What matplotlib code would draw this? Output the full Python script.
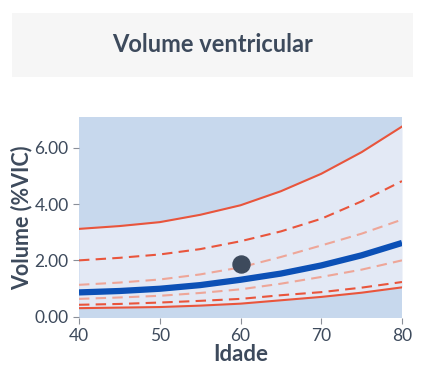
import matplotlib.pyplot as plt
from matplotlib.patches import FancyBboxPatch

# Curves (percentiles of ventricular volume vs age)
idade = [40, 45, 50, 55, 60, 65, 70, 75, 80]
p_sup = [3.12, 3.22, 3.36, 3.62, 3.96, 4.46, 5.08, 5.85, 6.76]
p_sup2 = [2.00, 2.09, 2.21, 2.40, 2.68, 3.03, 3.48, 4.10, 4.82]
p_sup3 = [1.13, 1.21, 1.32, 1.50, 1.75, 2.12, 2.53, 2.95, 3.45]
mediana = [0.86, 0.91, 0.99, 1.12, 1.31, 1.53, 1.82, 2.18, 2.62]
p_inf3 = [0.63, 0.68, 0.74, 0.84, 0.97, 1.17, 1.41, 1.67, 2.00]
p_inf2 = [0.42, 0.45, 0.50, 0.56, 0.63, 0.76, 0.87, 1.03, 1.23]
p_inf = [0.30, 0.32, 0.34, 0.39, 0.46, 0.58, 0.70, 0.85, 1.04]

paciente_idade = [60]
paciente_vol = [1.86]

xticks = [40, 50, 60, 70, 80]
yticks = [0, 2, 4, 6]

txt = '#3d4a5c'
red = '#e9553c'
light_red = '#eea698'

plt.rcParams['font.family'] = ['Lato', 'DejaVu Sans']

fig = plt.figure(figsize=(4.28, 3.67), dpi=100)

# title box
box = FancyBboxPatch((12 / 428, 1 - 77 / 367), (413 - 12) / 428, (77 - 13) / 367,
                     boxstyle='square,pad=0', transform=fig.transFigure,
                     facecolor='#f6f6f6', edgecolor='none')
fig.patches.append(box)
fig.text(213 / 428, 1 - 45 / 367, 'Volume ventricular', ha='center', va='center',
         fontsize=17, fontweight='bold', color=txt)

ax = fig.add_axes([79 / 428, 1 - 318 / 367, (402 - 79) / 428, (318 - 117) / 367])
ax.set_facecolor('#c7d8ed')
ax.fill_between(idade, p_inf, p_sup, color='#e3e9f5', lw=0)

ax.plot(idade, p_sup, color=red, lw=1.5)
ax.plot(idade, p_inf, color=red, lw=1.5)
ax.plot(idade, p_sup2, color=red, lw=1.5, ls=(0, (5, 3)))
ax.plot(idade, p_inf2, color=red, lw=1.5, ls=(0, (5, 3)))
ax.plot(idade, p_sup3, color=light_red, lw=1.5, ls=(0, (5, 3)))
ax.plot(idade, p_inf3, color=light_red, lw=1.5, ls=(0, (5, 3)))
ax.plot(idade, mediana, color='#0b50b6', lw=4.5, solid_capstyle='butt')
ax.scatter(paciente_idade, paciente_vol, s=150, color=txt, zorder=5)

ax.set_xlim(40, 80)
ax.set_ylim(-0.05, 7.1)
ax.set_xticks(xticks)
ax.set_yticks(yticks)
ax.set_yticklabels([f'{v:.2f}' for v in yticks])
for s in ax.spines.values():
    s.set_visible(False)
ax.tick_params(colors='#8a8f98', labelcolor=txt, labelsize=12.5, length=4, width=0.8)
ax.set_xlabel('Idade', fontsize=16, fontweight='bold', color=txt, labelpad=0)
ax.set_ylabel('Volume (%VIC)', fontsize=15.5, fontweight='bold', color=txt, labelpad=1)

plt.savefig('out.png', dpi=100, facecolor='white')
